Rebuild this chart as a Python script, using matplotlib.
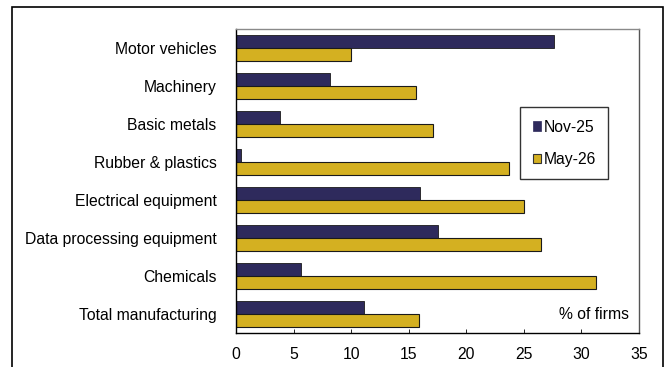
import numpy as np
import matplotlib
matplotlib.use("Agg")
import matplotlib.pyplot as plt
from matplotlib.patches import Rectangle, Patch

plt.rcParams["font.family"] = ["Liberation Sans", "DejaVu Sans"]

# Data
categories = [
    "Motor vehicles",
    "Machinery",
    "Basic metals",
    "Rubber & plastics",
    "Electrical equipment",
    "Data processing equipment",
    "Chemicals",
    "Total manufacturing",
]
nov25 = [27.6, 8.2, 3.85, 0.45, 16.0, 17.5, 5.65, 11.15]
may26 = [10.0, 15.6, 17.1, 23.7, 25.0, 26.5, 31.25, 15.9]
series_labels = ["Nov-25", "May-26"]
x_ticks = [0, 5, 10, 15, 20, 25, 30, 35]

NAVY = "#2e2a5c"
GOLD = "#d4b021"
FS = 11.3

W, H = 667, 367
fig = plt.figure(figsize=(W / 100, H / 100), dpi=100)
ax = fig.add_axes([236 / W, 1 - 333 / H, (639 - 236) / W, (333 - 29) / H])

y = np.arange(len(categories))
h = 0.335
ax.barh(y - h / 2, nov25, height=h, color=NAVY, edgecolor="#1a1a1a", linewidth=0.6)
ax.barh(y + h / 2, may26, height=h, color=GOLD, edgecolor="#1a1a1a", linewidth=0.8)

ax.set_ylim(len(categories) - 0.5, -0.5)
ax.set_xlim(0, 35)
ax.set_yticks(y)
ax.set_yticklabels(categories, fontsize=FS)
ax.tick_params(axis="y", length=0, pad=14)
ax.set_xticks(x_ticks)
ax.set_xticklabels([str(t) for t in x_ticks], fontsize=FS)
ax.tick_params(axis="x", direction="in", length=3, width=0.6, pad=10)

ax.spines["left"].set_color("black")
ax.spines["bottom"].set_color("black")
ax.spines["top"].set_color("#8a8a8a")
ax.spines["right"].set_color("#555555")
for s in ax.spines.values():
    s.set_linewidth(1.0)

ax.text(0.975, 0.035, "% of firms", transform=ax.transAxes, ha="right",
        va="bottom", fontsize=FS)

handles = [Patch(facecolor=NAVY, edgecolor=NAVY, linewidth=0.5),
           Patch(facecolor=GOLD, edgecolor="#333333", linewidth=0.8)]
leg = ax.legend(handles, series_labels, loc="upper left",
                bbox_to_anchor=((520 - 236) / 403, 1 - (107 - 29) / 304),
                fontsize=FS, frameon=True, fancybox=False, borderpad=0.8,
                handlelength=0.55, handleheight=0.55, handletextpad=0.15,
                labelspacing=1.1, borderaxespad=0)
leg.get_frame().set_edgecolor("black")
leg.get_frame().set_linewidth(1.0)

# outer frame of the panel
fig.patches.append(Rectangle((12 / W, -0.05), (663 - 12) / W, 1.05 - 7 / H,
                             transform=fig.transFigure, fill=False,
                             edgecolor="black", linewidth=1.2))

fig.savefig("out.png", dpi=100)
